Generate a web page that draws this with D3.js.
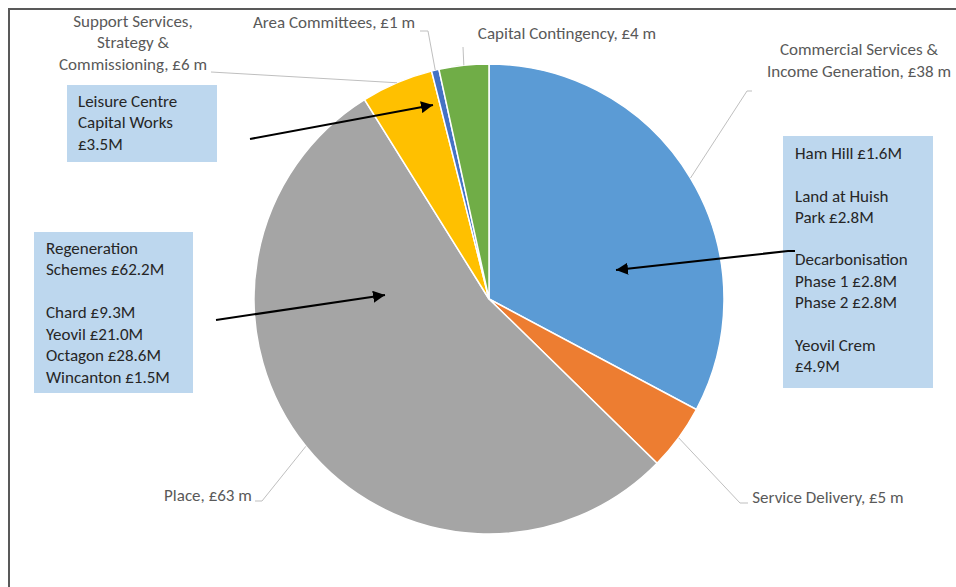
<!DOCTYPE html>
<html><head><meta charset="utf-8">
<script src="https://cdn.jsdelivr.net/npm/d3@7"></script>
<style>
html,body{margin:0;padding:0;background:#fff;}
svg{display:block;}
text{font-family:Carlito, Lato, "Open Sans", sans-serif;}
</style></head>
<body>
<script>
// ---- data ----
const categories = ["Commercial Services & Income Generation","Service Delivery","Place","Support Services, Strategy & Commissioning","Area Committees","Capital Contingency"];
const values = [38.4, 5.3, 63.0, 5.8, 0.6, 4.0];
const colors = ["#5B9BD5","#ED7D31","#A5A5A5","#FFC000","#4472C4","#70AD47"];
// data label lines (as wrapped in the original)
const labelLines = [
  ["Commercial Services &","Income Generation, £38 m"],
  ["Service Delivery, £5 m"],
  ["Place, £63 m"],
  ["Support Services,","Strategy &","Commissioning, £6 m"],
  ["Area Committees, £1 m"],
  ["Capital Contingency, £4 m"]
];
// callout boxes
const leisureLines = ["Leisure Centre","Capital Works","£3.5M"];
const regenLines = ["Regeneration","Schemes £62.2M","","Chard £9.3M","Yeovil £21.0M","Octagon £28.6M","Wincanton £1.5M"];
const commercialLines = ["Ham Hill £1.6M","","Land at Huish","Park £2.8M","","Decarbonisation","Phase 1 £2.8M","Phase 2 £2.8M","","Yeovil Crem","£4.9M"];

const W=956,H=587;
const FS="17px";
const svg=d3.select("body").append("svg").attr("width",W).attr("height",H);
svg.append("defs").append("marker").attr("id","ah").attr("viewBox","0 0 10 10")
  .attr("refX",10).attr("refY",5).attr("markerWidth",6).attr("markerHeight",6)
  .attr("markerUnits","strokeWidth").attr("orient","auto")
  .append("path").attr("d","M0,0L10,5L0,10z").attr("fill","#000");

// frame
svg.append("path").attr("d",`M9,${H}V9H${W}`).attr("fill","none").attr("stroke","#595959").attr("stroke-width",2);

const cx=489, cy=299, R=235;
const g=svg.append("g").attr("transform",`translate(${cx},${cy})`);
const pie=d3.pie().sort(null).value(d=>d)(values);
const arc=d3.arc().innerRadius(0).outerRadius(R);
const edge=d3.arc().innerRadius(R).outerRadius(R);
g.selectAll("path.slice").data(pie).join("path").attr("class","slice")
  .attr("d",arc).attr("fill",(d,i)=>colors[i]).attr("stroke","#fff").attr("stroke-width",1.5);

// label layout: text center x, first line center y, line height, leader elbow points
const labelLayout = [
  {x:859,y:49,lh:22,pts:[[752,91],[747,91]]},
  {x:828,y:497,lh:21,pts:[[748,503],[740,503]]},
  {x:208,y:495,lh:21,pts:[[255,501],[262,501]]},
  {x:133,y:21,lh:21.5,pts:[[211,72]]},
  {x:334,y:22,lh:21,pts:[[420,31],[428,31]]},
  {x:567,y:33,lh:21,pts:[[463,47]]}
];
const lab=svg.append("g");
pie.forEach((d,i)=>{
  const L=labelLayout[i];
  const c=edge.centroid(d);
  const pts=L.pts.concat([[cx+c[0],cy+c[1]]]);
  lab.append("path").attr("d",d3.line()(pts)).attr("fill","none").attr("stroke","#BFBFBF").attr("stroke-width",1);
  const t=lab.append("text").attr("text-anchor","middle").attr("fill","#595959").style("font-size",FS);
  labelLines[i].forEach((s,k)=>t.append("tspan").attr("x",L.x).attr("y",L.y+k*L.lh).attr("dy","0.35em").text(s));
});

function box(x,y,w,h,lines,tx,ty,lh){
  svg.append("rect").attr("x",x).attr("y",y).attr("width",w).attr("height",h).attr("fill","#BDD7EE");
  const t=svg.append("text").attr("fill","#262626").style("font-size",FS);
  lines.forEach((s,k)=>t.append("tspan").attr("x",tx).attr("y",ty+k*lh).attr("dy","0.35em").text(s));
}
box(67,85,150,77,leisureLines,78,101,21.5);
box(34,232,159,161,regenLines,46,248,21.5);
box(783,136,150,252,commercialLines,795,153,21.3);

// arrows
const arrows=[
  [[250,139],[433,105]],
  [[216,320],[385,295]],
  [[795,251],[788,251],[616,270]]
];
arrows.forEach(p=>svg.append("path").attr("d",d3.line()(p)).attr("fill","none").attr("stroke","#000").attr("stroke-width",2).attr("marker-end","url(#ah)"));
</script>
</body></html>
